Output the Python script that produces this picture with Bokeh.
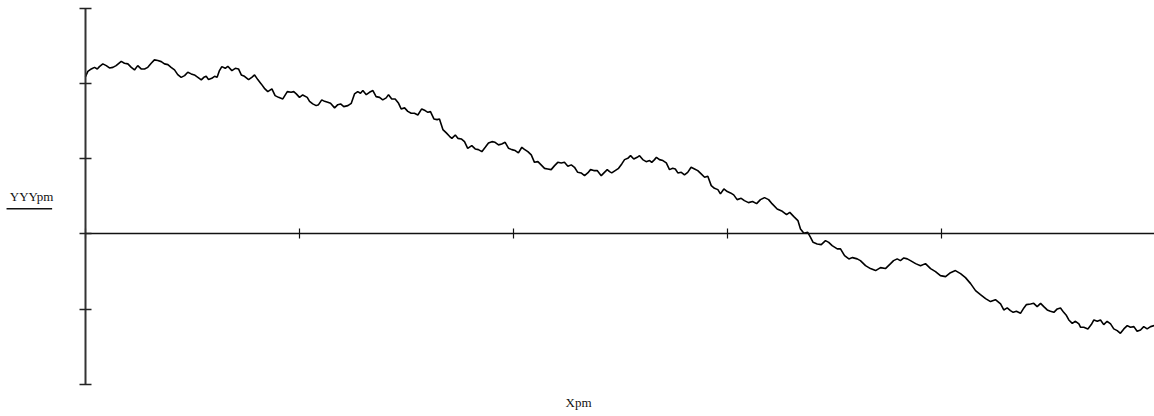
from bokeh.plotting import figure
from bokeh.models import LinearAxis, Range1d, FixedTicker, Label
from bokeh.embed import file_html
from bokeh.resources import INLINE

# ---- data ----
walk_x = [
    0.000, 0.011, 0.027, 0.042, 0.055, 0.065, 0.081, 0.097, 0.112, 0.128,
    0.143, 0.167, 0.182, 0.198, 0.214, 0.229, 0.244, 0.260, 0.276, 0.291,
    0.307, 0.322, 0.338, 0.354, 0.369, 0.385, 0.400, 0.416, 0.431, 0.447,
    0.463, 0.478, 0.494,
    0.509, 0.525, 0.541, 0.553, 0.564, 0.575, 0.590, 0.603, 0.615, 0.626,
    0.637, 0.653, 0.665, 0.684, 0.700, 0.715, 0.728, 0.743, 0.762, 0.777,
    0.790, 0.805, 0.821, 0.836, 0.852, 0.871, 0.886, 0.902, 0.922, 0.943,
    0.961, 0.973, 0.985, 1.000, 1.015,
    1.036, 1.047, 1.062, 1.078, 1.089, 1.104, 1.117, 1.132, 1.145, 1.164,
    1.179, 1.192, 1.207, 1.226, 1.242, 1.257, 1.272, 1.285, 1.296, 1.312,
    1.327, 1.343, 1.358, 1.374, 1.389, 1.405, 1.416, 1.431, 1.447, 1.463,
    1.475, 1.491, 1.506, 1.522, 1.537,
    1.553, 1.571, 1.587, 1.600, 1.612, 1.628, 1.643, 1.654, 1.670, 1.686,
    1.701, 1.712, 1.728, 1.740, 1.756, 1.771, 1.786, 1.805, 1.821, 1.836,
    1.852, 1.868, 1.883, 1.899, 1.914, 1.930, 1.945, 1.961, 1.977, 1.992,
    2.008, 2.023, 2.039, 2.051,
    2.067, 2.083, 2.098, 2.114, 2.129, 2.145, 2.160, 2.176, 2.192, 2.207,
    2.223, 2.238, 2.254, 2.270, 2.285, 2.300, 2.316, 2.332, 2.347, 2.360,
    2.375, 2.391, 2.410, 2.425, 2.438, 2.449, 2.459, 2.475, 2.491, 2.506,
    2.519, 2.534, 2.547, 2.562,
    2.578, 2.589, 2.604, 2.620, 2.636, 2.646, 2.659, 2.668, 2.682, 2.698,
    2.714, 2.729, 2.744, 2.756, 2.768, 2.784, 2.799, 2.814, 2.830, 2.846,
    2.861, 2.877, 2.893, 2.908, 2.924, 2.939, 2.955, 2.967, 2.983, 2.999,
    3.014, 3.029, 3.045, 3.064, 3.079,
    3.098, 3.117, 3.136, 3.154, 3.173, 3.192, 3.209, 3.232, 3.256, 3.276,
    3.291, 3.310, 3.329, 3.341, 3.357, 3.375, 3.388, 3.400, 3.419, 3.438,
    3.458, 3.473, 3.489, 3.513, 3.528, 3.547, 3.567, 3.584, 3.606, 3.621,
    3.645, 3.668, 3.692, 3.715, 3.738, 3.762, 3.776, 3.793, 3.808, 3.824,
    3.840, 3.855, 3.879, 3.902, 3.925, 3.949, 3.972, 3.995, 4.019, 4.042,
    4.065, 4.089, 4.112, 4.136, 4.159, 4.182, 4.206, 4.229, 4.252,
    4.276, 4.291, 4.307, 4.322, 4.335, 4.350, 4.369, 4.385, 4.397, 4.416,
    4.431, 4.447, 4.463, 4.478, 4.494, 4.509, 4.525, 4.541, 4.556, 4.571,
    4.584, 4.595, 4.611, 4.626, 4.642, 4.650, 4.665, 4.684, 4.700, 4.712,
    4.728, 4.743, 4.758, 4.774, 4.790, 4.805, 4.821, 4.836, 4.852, 4.868,
    4.883, 4.899, 4.914, 4.930, 4.945, 4.961, 4.977, 4.995,
]

walk_y = [
    2.092, 2.162, 2.194, 2.215, 2.194, 2.225, 2.261, 2.238, 2.207, 2.215,
    2.238, 2.295, 2.269, 2.261, 2.215, 2.181, 2.238, 2.194, 2.194, 2.215,
    2.269, 2.314, 2.305, 2.291, 2.261, 2.251, 2.215, 2.181, 2.118, 2.082,
    2.105, 2.149, 2.128,
    2.114, 2.082, 2.048, 2.082, 2.096, 2.052, 2.069, 2.096, 2.082, 2.172,
    2.225, 2.202, 2.229, 2.172, 2.202, 2.194, 2.114, 2.096, 2.052, 2.082,
    2.114, 2.052, 1.995, 1.936, 1.892, 1.928, 1.839, 1.816, 1.795, 1.892,
    1.883, 1.892, 1.862, 1.816, 1.848,
    1.816, 1.763, 1.729, 1.706, 1.719, 1.782, 1.763, 1.750, 1.737, 1.676,
    1.719, 1.729, 1.693, 1.706, 1.737, 1.862, 1.892, 1.870, 1.906, 1.852,
    1.883, 1.906, 1.826, 1.816, 1.782, 1.809, 1.852, 1.795, 1.795, 1.737,
    1.662, 1.676, 1.630, 1.604, 1.604,
    1.582, 1.662, 1.640, 1.617, 1.626, 1.529, 1.520, 1.529, 1.387, 1.343,
    1.298, 1.271, 1.316, 1.271, 1.263, 1.227, 1.138, 1.174, 1.130, 1.121,
    1.094, 1.152, 1.210, 1.227, 1.218, 1.184, 1.197, 1.218, 1.138, 1.121,
    1.108, 1.077, 1.152, 1.125,
    1.094, 1.051, 0.952, 0.961, 0.918, 0.872, 0.864, 0.855, 0.908, 0.952,
    0.944, 0.952, 0.899, 0.918, 0.886, 0.819, 0.811, 0.775, 0.811, 0.855,
    0.842, 0.842, 0.775, 0.819, 0.855, 0.828, 0.811, 0.842, 0.872, 0.931,
    0.988, 1.005, 1.041, 0.997,
    1.019, 1.041, 0.988, 0.961, 0.975, 0.952, 0.988, 1.019, 0.988, 0.975,
    0.944, 0.855, 0.872, 0.864, 0.811, 0.819, 0.785, 0.819, 0.886, 0.864,
    0.842, 0.798, 0.753, 0.766, 0.642, 0.606, 0.589, 0.532, 0.598, 0.563,
    0.545, 0.519, 0.456, 0.473, 0.443,
    0.416, 0.430, 0.403, 0.456, 0.483, 0.456, 0.399, 0.332, 0.301, 0.257,
    0.287, 0.230, 0.177, 0.066, 0.008, 0.021, -0.045, -0.112, -0.133, -0.142,
    -0.089, -0.112, -0.156, -0.199, -0.199, -0.289, -0.332, -0.315, -0.332, -0.355,
    -0.422, -0.461, -0.488, -0.448, -0.461, -0.395, -0.355, -0.332, -0.355, -0.319,
    -0.332, -0.355, -0.395, -0.422, -0.395, -0.461, -0.501, -0.555, -0.568, -0.515,
    -0.488, -0.528, -0.581, -0.661, -0.754, -0.807, -0.860, -0.900, -0.874,
    -0.931, -1.011, -0.984, -1.020, -1.043, -1.029, -1.056, -0.984, -0.940, -0.931,
    -0.923, -0.967, -0.923, -0.967, -1.011, -1.029, -1.043, -0.997, -0.984, -1.043,
    -1.086, -1.144, -1.189, -1.162, -1.197, -1.242, -1.242, -1.263, -1.206, -1.144,
    -1.162, -1.144, -1.206, -1.162, -1.197, -1.263, -1.286, -1.322, -1.263, -1.219,
    -1.242, -1.233, -1.295, -1.277, -1.233, -1.263, -1.233, -1.219,
]

x_ticks = [0, 1, 2, 3, 4]
y_ticks = [-2, -1, 0, 1, 2, 3]
x_label = "Xpm"
y_label = "YYYpm"

# ---- figure ----
p = figure(width=1154, height=416,
           x_range=Range1d(-0.3972, 4.9953), y_range=Range1d(-2.428, 3.104),
           x_axis_type=None, y_axis_type=None,
           output_backend="svg", toolbar_location=None, min_border=0)
p.outline_line_color = None
p.background_fill_color = "white"
p.border_fill_color = "white"

xaxis = LinearAxis(fixed_location=0, bounds=(0, 4.9953),
                   ticker=FixedTicker(ticks=x_ticks),
                   axis_line_color="#111111", axis_line_width=1.5,
                   major_tick_line_color="#111111", major_tick_line_width=1.2,
                   major_tick_in=5, major_tick_out=5,
                   minor_tick_line_color=None,
                   major_label_text_color=None)
p.add_layout(xaxis, "below")

yaxis = LinearAxis(fixed_location=0, bounds=(-2, 3),
                   ticker=FixedTicker(ticks=y_ticks),
                   axis_line_color="#333333", axis_line_width=2,
                   major_tick_line_color="#222222", major_tick_line_width=1.3,
                   major_tick_in=6, major_tick_out=6,
                   minor_tick_line_color=None,
                   major_label_text_color=None)
p.add_layout(yaxis, "left")

p.line(walk_x, walk_y, line_color="black", line_width=1.6)

p.add_layout(Label(x=-0.252, y=0.50, text=y_label, text_align="center",
                   text_baseline="alphabetic", text_font="Liberation Serif",
                   text_font_size="13px", text_color="#111111"))
p.segment(x0=[-0.369], y0=[0.334], x1=[-0.156], y1=[0.334],
          line_color="#111111", line_width=1.5)
p.add_layout(Label(x=2.304, y=-2.242, text=x_label, text_align="center",
                   text_baseline="alphabetic", text_font="Liberation Serif",
                   text_font_size="13px", text_color="#111111"))

open("out.html", "w").write(file_html(p, INLINE))
